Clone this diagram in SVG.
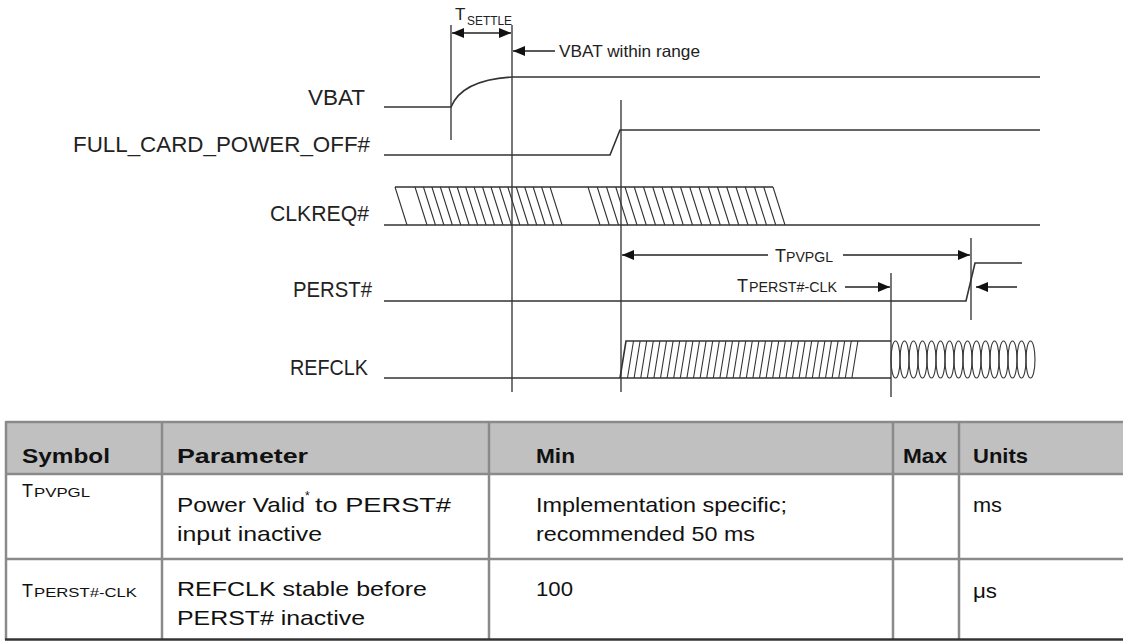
<svg xmlns="http://www.w3.org/2000/svg" width="1123" height="644" viewBox="0 0 1123 644">
<defs>
<style>
.sig{fill:none;stroke:#333;stroke-width:1.6}
.hat{fill:none;stroke:#333;stroke-width:1.1}
.vl{fill:none;stroke:#555;stroke-width:1.6}
.dim{fill:none;stroke:#222;stroke-width:1.5}
.lbl{font-family:"Liberation Sans",Arial,sans-serif;font-size:22px;fill:#222;text-anchor:end}
.ann{font-family:"Liberation Sans",Arial,sans-serif;fill:#222}
.th{font-family:"Liberation Sans",Arial,sans-serif;font-size:21px;font-weight:bold;fill:#111}
.td{font-family:"Liberation Sans",Arial,sans-serif;font-size:21px;fill:#111}
.sym{font-family:"Liberation Sans",Arial,sans-serif;fill:#111}
.grid{fill:none;stroke:#8a8a8a;stroke-width:2.5}
</style>
<marker id="ah" viewBox="0 0 12 10" refX="12" refY="5" markerWidth="12" markerHeight="10" markerUnits="userSpaceOnUse" orient="auto-start-reverse">
<path d="M0 0L12 5L0 10z" fill="#111"/>
</marker>
</defs>
<rect width="1123" height="644" fill="#fff"/>

<g id="labels">
<text class="lbl" x="365" y="105" textLength="57" lengthAdjust="spacingAndGlyphs">VBAT</text>
<text class="lbl" x="370" y="152" textLength="297" lengthAdjust="spacingAndGlyphs">FULL_CARD_POWER_OFF#</text>
<text class="lbl" x="369" y="221" textLength="99" lengthAdjust="spacingAndGlyphs">CLKREQ#</text>
<text class="lbl" x="372" y="297" textLength="79" lengthAdjust="spacingAndGlyphs">PERST#</text>
<text class="lbl" x="368" y="375" textLength="78" lengthAdjust="spacingAndGlyphs">REFCLK</text>
</g>

<g id="markers-vertical">
<path class="vl" d="M451 25V140M512 25V392M621 100V392M891 273V397M971 238V320"/>
</g>

<g id="vbat">
<path class="sig" d="M384 107H451Q462 80 512 77H1040"/>
</g>
<g id="full-card-power-off">
<path class="sig" d="M384 155H610L620 130H1040"/>
</g>
<g id="clkreq">
<path class="sig" d="M384 225H1040M395 187H773"/>
<path class="hat" d="M395 187l12 38M415 187l12 38m-3.56 -38l12 38m-3.56 -38l12 38m-3.56 -38l12 38m-3.56 -38l12 38m-3.56 -38l12 38m-3.56 -38l12 38m-3.56 -38l12 38m-3.56 -38l12 38m-3.56 -38l12 38m-3.56 -38l12 38m-3.56 -38l12 38m-3.56 -38l12 38m-3.56 -38l12 38m-3.56 -38l12 38m-3.56 -38l12 38m-3.56 -38l12 38"/>
<path class="hat" d="M588 187l12 38m-2.75 -38l12 38m-2.75 -38l12 38m-2.75 -38l12 38m-2.75 -38l12 38m-2.75 -38l12 38m-2.75 -38l12 38m-2.75 -38l12 38m-2.75 -38l12 38m-2.75 -38l12 38m-2.75 -38l12 38m-2.75 -38l12 38m-2.75 -38l12 38m-2.75 -38l12 38m-2.75 -38l12 38m-2.75 -38l12 38m-2.75 -38l12 38m-2.75 -38l12 38m-2.75 -38l12 38m-2.75 -38l12 38m-2.75 -38l12 38"/>
</g>
<g id="perst">
<path class="sig" d="M384 301H966L975 263H1022"/>
</g>
<g id="refclk">
<path class="sig" d="M384 378H891M620 378L626 341H891"/>
<path class="hat" d="M627.5 378l6 -37m.6 37l6 -37m.6 37l6 -37m.6 37l6 -37m.6 37l6 -37m.6 37l6 -37m.6 37l6 -37m.6 37l6 -37m.6 37l6 -37m.6 37l6 -37m.6 37l6 -37m.6 37l6 -37m.6 37l6 -37m.6 37l6 -37m.6 37l6 -37m.6 37l6 -37m.6 37l6 -37m.6 37l6 -37m.6 37l6 -37m.6 37l6 -37m.6 37l6 -37m.6 37l6 -37m.6 37l6 -37m.6 37l6 -37m.6 37l6 -37m.6 37l6 -37m.6 37l6 -37m.6 37l6 -37m.6 37l6 -37m.6 37l6 -37m.6 37l6 -37m.6 37l6 -37m.6 37l6 -37m.6 37l6 -37m.6 37l6 -37"/>
<g class="hat">
<ellipse cx="895.5" cy="359.5" rx="4.5" ry="18.5"/><ellipse cx="904.5" cy="359.5" rx="4.5" ry="18.5"/><ellipse cx="913.5" cy="359.5" rx="4.5" ry="18.5"/><ellipse cx="922.5" cy="359.5" rx="4.5" ry="18.5"/><ellipse cx="931.5" cy="359.5" rx="4.5" ry="18.5"/><ellipse cx="940.5" cy="359.5" rx="4.5" ry="18.5"/><ellipse cx="949.5" cy="359.5" rx="4.5" ry="18.5"/><ellipse cx="958.5" cy="359.5" rx="4.5" ry="18.5"/><ellipse cx="967.5" cy="359.5" rx="4.5" ry="18.5"/><ellipse cx="976.5" cy="359.5" rx="4.5" ry="18.5"/><ellipse cx="985.5" cy="359.5" rx="4.5" ry="18.5"/><ellipse cx="994.5" cy="359.5" rx="4.5" ry="18.5"/><ellipse cx="1003.5" cy="359.5" rx="4.5" ry="18.5"/><ellipse cx="1012.5" cy="359.5" rx="4.5" ry="18.5"/><ellipse cx="1021.5" cy="359.5" rx="4.5" ry="18.5"/><ellipse cx="1030.5" cy="359.5" rx="4.5" ry="18.5"/>
</g>
</g>

<g id="connectors">
<path class="dim" d="M452 33H511" marker-start="url(#ah)" marker-end="url(#ah)"/>
<path class="dim" d="M555 51H513" marker-end="url(#ah)"/>
<path class="dim" d="M768 255H622" marker-end="url(#ah)"/>
<path class="dim" d="M843 255H970" marker-end="url(#ah)"/>
<path class="dim" d="M845 287H890" marker-end="url(#ah)"/>
<path class="dim" d="M1017 287H976" marker-end="url(#ah)"/>
</g>

<g id="annotations">
<text class="ann" x="455" y="20" font-size="17">T</text>
<text class="ann" x="467" y="25" font-size="12" textLength="45" lengthAdjust="spacingAndGlyphs">SETTLE</text>
<text class="ann" x="559" y="57" font-size="16.5" textLength="141" lengthAdjust="spacingAndGlyphs">VBAT within range</text>
<text class="ann" x="775" y="262" font-size="18">T</text>
<text class="ann" x="786" y="262" font-size="14" textLength="47" lengthAdjust="spacingAndGlyphs">PVPGL</text>
<text class="ann" x="737" y="292" font-size="18">T</text>
<text class="ann" x="749" y="292" font-size="14" textLength="88" lengthAdjust="spacingAndGlyphs">PERST#-CLK</text>
</g>

<g id="table">
<rect x="6" y="422" width="1117" height="52" fill="#c0c0c0"/>
<path class="grid" d="M6 422H1123M6 474H1123M6 559H1123M6 421V640M162 421V640M489 421V640M893 421V640M959 421V640"/>
<path d="M5 639.5H1123" stroke="#333" stroke-width="2.5"/>
<text class="th" x="22" y="463" textLength="88" lengthAdjust="spacingAndGlyphs">Symbol</text>
<text class="th" x="177" y="463" textLength="131" lengthAdjust="spacingAndGlyphs">Parameter</text>
<text class="th" x="536" y="463" textLength="39" lengthAdjust="spacingAndGlyphs">Min</text>
<text class="th" x="903" y="463" textLength="44" lengthAdjust="spacingAndGlyphs">Max</text>
<text class="th" x="973" y="463" textLength="55" lengthAdjust="spacingAndGlyphs">Units</text>

<text class="sym" x="22" y="497" style="font-size:18px">T</text>
<text class="sym" x="34" y="497" style="font-size:13px" textLength="56" lengthAdjust="spacingAndGlyphs">PVPGL</text>
<text class="td" x="177" y="512" textLength="128" lengthAdjust="spacingAndGlyphs">Power Valid</text>
<text class="sym" x="305" y="500" style="font-size:12px">*</text>
<text class="td" x="315" y="512" textLength="136" lengthAdjust="spacingAndGlyphs">to PERST#</text>
<text class="td" x="177" y="541" textLength="145" lengthAdjust="spacingAndGlyphs">input inactive</text>
<text class="td" x="536" y="512" textLength="251" lengthAdjust="spacingAndGlyphs">Implementation specific;</text>
<text class="td" x="536" y="541" textLength="219" lengthAdjust="spacingAndGlyphs">recommended 50 ms</text>
<text class="td" x="973" y="512" textLength="29" lengthAdjust="spacingAndGlyphs">ms</text>

<text class="sym" x="22" y="597" style="font-size:18px">T</text>
<text class="sym" x="34" y="597" style="font-size:13px" textLength="103" lengthAdjust="spacingAndGlyphs">PERST#-CLK</text>
<text class="td" x="177" y="596" textLength="250" lengthAdjust="spacingAndGlyphs">REFCLK stable before</text>
<text class="td" x="177" y="625" textLength="188" lengthAdjust="spacingAndGlyphs">PERST# inactive</text>
<text class="td" x="536" y="596" textLength="37" lengthAdjust="spacingAndGlyphs">100</text>
<text class="td" x="973" y="598" textLength="24" lengthAdjust="spacingAndGlyphs">μs</text>
</g>
</svg>
